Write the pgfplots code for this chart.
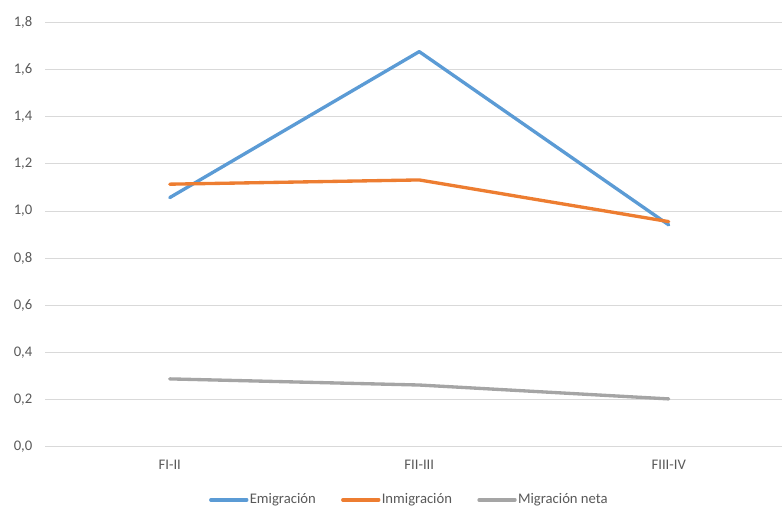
\documentclass[border=0pt]{standalone}
\usepackage{pgfplots}
\pgfplotsset{compat=1.18}
\usepackage{fontspec}
\setmainfont{Carlito}

\definecolor{emig}{HTML}{5B9BD5}
\definecolor{inmig}{HTML}{ED7D31}
\definecolor{neta}{HTML}{A5A5A5}
\definecolor{gridc}{HTML}{D9D9D9}
\definecolor{txt}{HTML}{595959}

\begin{document}
\begin{tikzpicture}[font=\fontsize{11pt}{13pt}\selectfont]
\begin{axis}[
  scale only axis,
  width=552.75pt, height=317.85pt,
  xmin=-0.5, xmax=2.454,
  ymin=0, ymax=1.8,
  ytick={0,0.2,...,1.8},
  xtick={0,1,2},
  xticklabels={FI-II, FII-III, FIII-IV},
  axis line style={draw=none},
  major tick length=0pt,
  ymajorgrids,
  grid style={gridc, line width=0.75pt},
  tick label style={txt},
  yticklabel style={xshift=-6pt},
  xticklabel style={yshift=-7pt},
  /pgf/number format/.cd, use comma, fixed, fixed zerofill, precision=1, assume math mode=true,
  /pgfplots/.cd,
  legend columns=3,
  legend style={draw=none, fill=none, at={(0.494,-0.126)}, anchor=center,
    font=\fontsize{11pt}{13pt}\selectfont\color{txt},
    /tikz/every even column/.append style={column sep=18pt},
    nodes={inner sep=1pt}},
  legend image code/.code={\draw[#1] (0pt,0pt) -- (27pt,0pt);},
  every axis plot/.append style={line width=2.5pt, line join=round, line cap=round},
  clip=false,
]
\addplot[emig] coordinates {(0,1.057) (1,1.677) (2,0.941)};
\addlegendentry{Emigración}
\addplot[inmig] coordinates {(0,1.114) (1,1.132) (2,0.955)};
\addlegendentry{Inmigración}
\addplot[neta] coordinates {(0,0.287) (1,0.261) (2,0.202)};
\addlegendentry{Migración neta}
\coordinate (sw) at (rel axis cs:0,0);
\coordinate (ne) at (rel axis cs:1,1);
\end{axis}
\pgfresetboundingbox
\path[use as bounding box] ([shift={(-33.75pt,-48.4pt)}]sw) rectangle ([shift={(0pt,17pt)}]ne);
\end{tikzpicture}
\end{document}
